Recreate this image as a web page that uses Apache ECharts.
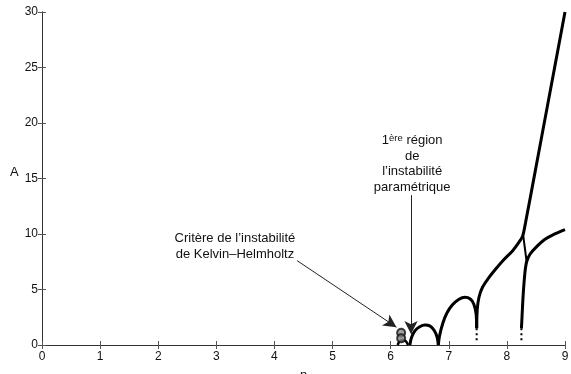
<!DOCTYPE html>
<html>
<head>
<meta charset="utf-8">
<script src="https://cdn.jsdelivr.net/npm/echarts@6/dist/echarts.min.js"></script>
<style>
  html, body { margin: 0; padding: 0; background: #fff; }
  #chart { width: 571px; height: 374px; }
</style>
</head>
<body>
<div id="chart"></div>
<script>
// Branches of the amplitude curve A(n)
const archKH = [[6.12, 0], [6.15, 0.3], [6.2, 0.45], [6.26, 0.35], [6.3, 0]];
const arch1 = [[6.33, 0], [6.36, 0.7], [6.42, 1.3], [6.5, 1.65], [6.59, 1.8], [6.68, 1.7], [6.75, 1.3], [6.8, 0.7], [6.82, 0]];
const arch2 = [[6.82, 0], [6.84, 0.8], [6.9, 2.0], [6.97, 2.9], [7.06, 3.6], [7.17, 4.1], [7.28, 4.3], [7.37, 4.15], [7.43, 3.7], [7.47, 2.8], [7.48, 1.5]];
const upperBranch = [[7.48, 1.5], [7.49, 3.2], [7.52, 4.3], [7.58, 5.2], [7.68, 6.0], [7.8, 6.8], [7.95, 7.7], [8.1, 8.5], [8.2, 9.2], [8.27, 9.8], [8.32, 11.0], [8.5, 16.0], [8.7, 21.6], [9, 30]];
const lowerBranch = [[8.25, 1.5], [8.26, 2.5], [8.28, 4.5], [8.31, 6.5], [8.34, 7.5], [8.4, 8.2], [8.5, 8.8], [8.65, 9.5], [8.8, 9.95], [9, 10.4]];
const connector = [[8.28, 9.9], [8.34, 7.5]];
const dropA = [[7.48, 1.5], [7.48, 0.2]];
const dropB = [[8.25, 1.5], [8.25, 0.3]];
const darkMarks = [[6.18, 1.1], [6.18, 0.6]];
const greyMarks = [[6.2, 2.2]];

// Annotations (data coordinates)
const khText = 'Critère de l\u2019instabilité\nde Kelvin\u2013Helmholtz';
const khTextAt = [3.32, 8.9];
const khArrow = [[4.39, 7.6], [6.1, 1.6]];
const paramTextAt = [6.37, 16.3];
const paramArrow = [[6.35, 13.5], [6.35, 1.0]];

const xTicks = { min: 0, max: 9, interval: 1 };
const yTicks = { min: 0, max: 30, interval: 5 };

const chart = echarts.init(document.getElementById('chart'), null, { renderer: 'canvas' });

const FONT = 'Liberation Sans';
const curve = (data, extra) => Object.assign({
  type: 'line',
  data,
  showSymbol: false,
  smooth: 0.3,
  lineStyle: { color: '#000', width: 3 },
  silent: true,
  z: 3
}, extra || {});

const axisBase = {
  type: 'value',
  axisLine: { show: true, lineStyle: { color: '#333', width: 1 } },
  axisTick: { show: true, inside: true, length: 4, lineStyle: { color: '#555' } },
  splitLine: { show: false }
};

chart.setOption({
  animation: false,
  backgroundColor: '#fff',
  textStyle: { fontFamily: FONT },
  grid: { left: 42, right: 6, top: 12, bottom: 29, containLabel: false, outerBoundsMode: 'none' },
  xAxis: [
    Object.assign({}, axisBase, xTicks, {
      position: 'bottom',
      name: 'n',
      nameLocation: 'middle',
      nameGap: 24,
      nameTextStyle: { fontFamily: FONT, fontSize: 13, color: '#111' },
      axisLabel: { fontFamily: FONT, fontSize: 12, color: '#111', margin: 6 }
    }),
    Object.assign({}, axisBase, xTicks, {
      position: 'top',
      axisLabel: { show: false }
    })
  ],
  yAxis: [
    Object.assign({}, axisBase, yTicks, {
      position: 'left',
      name: 'A',
      nameLocation: 'middle',
      nameRotate: 0,
      nameGap: 22,
      nameTextStyle: { fontFamily: FONT, fontSize: 13, color: '#111', verticalAlign: 'bottom' },
      axisLabel: { fontFamily: FONT, fontSize: 12, color: '#111', margin: 4 }
    }),
    Object.assign({}, axisBase, yTicks, {
      position: 'right',
      axisLabel: { show: false }
    })
  ],
  series: [
    curve(archKH, { lineStyle: { color: '#000', width: 2.5 } }),
    curve(arch1),
    curve(arch2),
    curve(upperBranch),
    curve(lowerBranch),
    curve(connector, { smooth: false, lineStyle: { color: '#000', width: 2 } }),
    curve(dropA, { smooth: false, lineStyle: { color: '#000', width: 2, type: [2, 3] } }),
    curve(dropB, { smooth: false, lineStyle: { color: '#000', width: 2, type: [2, 3] } }),
    {
      type: 'scatter',
      data: darkMarks,
      symbol: 'circle',
      symbolSize: 8,
      itemStyle: { color: '#888', borderColor: '#111', borderWidth: 2 },
      silent: true,
      z: 4
    },
    {
      type: 'scatter',
      data: greyMarks,
      symbol: 'emptyCircle',
      symbolSize: 7,
      itemStyle: { color: '#fff', borderColor: '#aaa', borderWidth: 1 },
      silent: true,
      z: 4
    },
    {
      type: 'line',
      data: [],
      silent: true,
      markLine: {
        silent: true,
        animation: false,
        symbol: ['none', 'arrow'],
        symbolSize: [10, 13],
        lineStyle: { color: '#222', width: 1, type: 'solid' },
        label: { show: false },
        data: [
          [{ coord: khArrow[0] }, { coord: khArrow[1] }],
          [{ coord: paramArrow[0] }, { coord: paramArrow[1] }]
        ]
      },
      markPoint: {
        silent: true,
        symbol: 'circle',
        symbolSize: 0,
        data: [
          {
            coord: khTextAt,
            label: {
              show: true,
              position: 'inside',
              formatter: khText,
              fontFamily: FONT,
              fontSize: 13,
              lineHeight: 16,
              color: '#111',
              align: 'center'
            }
          },
          {
            coord: paramTextAt,
            label: {
              show: true,
              position: 'inside',
              formatter: '1{sup|ère} région\nde\nl\u2019instabilité\nparamétrique',
              fontFamily: FONT,
              fontSize: 13,
              lineHeight: 15.5,
              color: '#111',
              align: 'center',
              rich: {
                sup: { fontFamily: FONT, fontSize: 9.5, color: '#111', verticalAlign: 'top', padding: [0, 0, 6, 0] }
              }
            }
          }
        ]
      }
    }
  ]
});
</script>
</body>
</html>
